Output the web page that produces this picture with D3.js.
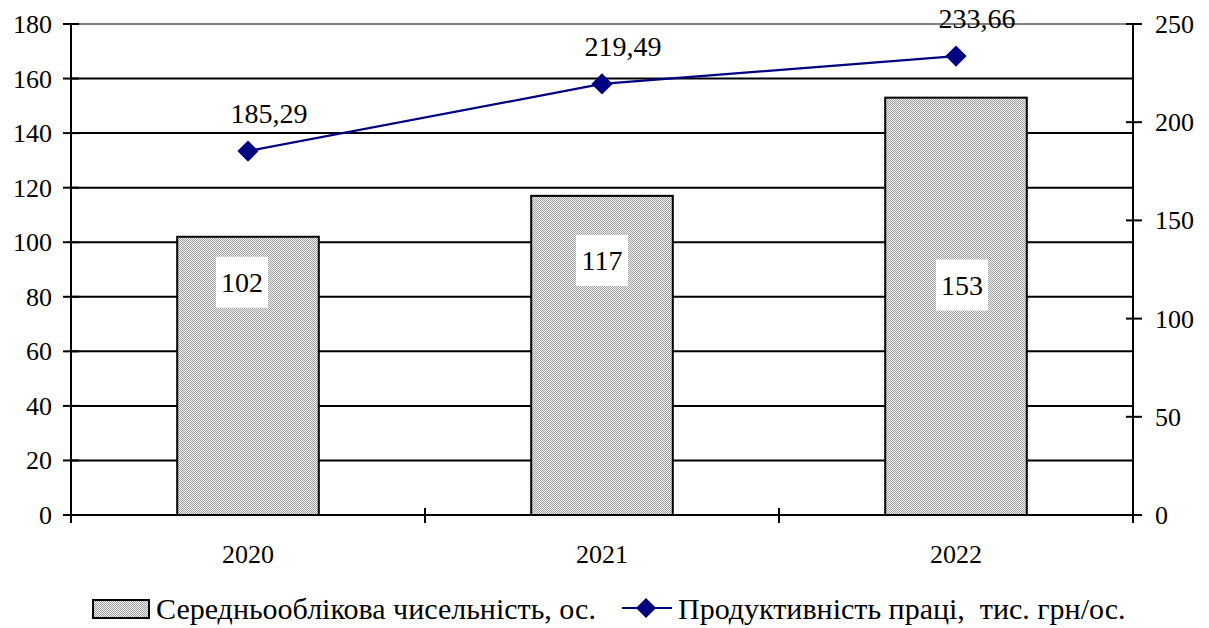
<!DOCTYPE html>
<html>
<head>
<meta charset="utf-8">
<script src="https://cdn.jsdelivr.net/npm/d3@7"></script>
<style>
  html, body { margin: 0; padding: 0; background: #fff; }
  svg { display: block; }
  svg text { font-family: 'Liberation Serif', serif; }
</style>
</head>
<body>
<svg id="chart" width="1209" height="628"></svg>
<script>
// ---- data ----
const categories = ["2020", "2021", "2022"];
const headcount = [102, 117, 153];              // left axis, bars
const productivity = [185.29, 219.49, 233.66];  // right axis, line
const productivityLabels = ["185,29", "219,49", "233,66"];
const leftTicks = [0, 20, 40, 60, 80, 100, 120, 140, 160, 180];
const rightTicks = [0, 50, 100, 150, 200, 250];
const barLabelLevels = [85.5, 93.5, 84.5]; // left-axis value where each bar's label box sits
const seriesNames = ["Середньооблікова чисельність, ос.", "Продуктивність праці,  тис. грн/ос."];

// ---- layout ----
const FONT = "'Liberation Serif', serif";
const svg = d3.select("#chart");
const L = 71, R = 1133, T = 24, B = 515;

const x = d3.scaleBand().domain(categories).range([L, R]).paddingInner(0.6).paddingOuter(0.3);
const xc = d3.scaleBand().domain(categories).range([L, R]);
const yL = d3.scaleLinear().domain([0, 180]).range([B, T]);
const yR = d3.scaleLinear().domain([0, 250]).range([B, T]);

// pattern (fine dotted gray)
const defs = svg.append("defs");
const pat = defs.append("pattern").attr("id", "hatch").attr("patternUnits", "userSpaceOnUse")
  .attr("width", 2).attr("height", 2);
pat.append("rect").attr("width", 2).attr("height", 2).attr("fill", "#f0f0f0");
pat.append("rect").attr("x", 0).attr("y", 0).attr("width", 1).attr("height", 1).attr("fill", "#a0a0a0");
pat.append("rect").attr("x", 1).attr("y", 1).attr("width", 1).attr("height", 1).attr("fill", "#a0a0a0");

// gridlines
svg.append("g").selectAll("line").data(leftTicks.filter(d => d > 0)).join("line")
  .attr("x1", L).attr("x2", R)
  .attr("y1", d => yL(d)).attr("y2", d => yL(d))
  .attr("stroke", d => d === 180 ? "#808080" : "#000")
  .attr("stroke-width", 2);

// bars
svg.append("g").selectAll("rect").data(categories).join("rect")
  .attr("x", d => x(d))
  .attr("y", (d, i) => yL(headcount[i]))
  .attr("width", x.bandwidth())
  .attr("height", (d, i) => yL(0) - yL(headcount[i]))
  .attr("fill", "url(#hatch)")
  .attr("stroke", "#000").attr("stroke-width", 2);

// bar labels with white boxes
const bl = svg.append("g");
categories.forEach((c, i) => {
  const cx = x(c) + x.bandwidth() / 2 + (i - 1) * 6;
  const cy = yL(barLabelLevels[i]);
  bl.append("rect").attr("x", cx - 26).attr("y", cy - 25).attr("width", 52).attr("height", 51).attr("fill", "#fff");
  bl.append("text").attr("x", cx).attr("y", cy + 10).attr("text-anchor", "middle")
    .attr("font-family", FONT).attr("font-size", 28).text(headcount[i]);
});

// axes
const axisG = svg.append("g").attr("stroke", "#000").attr("stroke-width", 2);
axisG.append("line").attr("x1", L).attr("x2", L).attr("y1", T).attr("y2", B + 1);
axisG.append("line").attr("x1", R).attr("x2", R).attr("y1", T).attr("y2", B + 1);
axisG.append("line").attr("x1", L - 1).attr("x2", R + 1).attr("y1", B).attr("y2", B);

// left ticks
const lt = svg.append("g");
lt.selectAll("line").data(leftTicks).join("line")
  .attr("x1", L - 8).attr("x2", L + 8)
  .attr("y1", d => yL(d)).attr("y2", d => yL(d))
  .attr("stroke", "#000").attr("stroke-width", 2);
lt.selectAll("text").data(leftTicks).join("text")
  .attr("x", 52).attr("y", d => yL(d) + 9).attr("text-anchor", "end")
  .attr("font-family", FONT).attr("font-size", 26).text(d => d);

// right ticks
const rt = svg.append("g");
rt.selectAll("line").data(rightTicks).join("line")
  .attr("x1", R - 7).attr("x2", R + 9)
  .attr("y1", d => yR(d)).attr("y2", d => yR(d))
  .attr("stroke", "#000").attr("stroke-width", 2);
rt.selectAll("text").data(rightTicks).join("text")
  .attr("x", 1155).attr("y", d => yR(d) + 9).attr("text-anchor", "start")
  .attr("font-family", FONT).attr("font-size", 26).text(d => d);

// bottom ticks at category boundaries
const bounds = categories.map(c => xc(c)).concat([xc(categories[categories.length - 1]) + xc.bandwidth()]);
svg.append("g").selectAll("line").data(bounds).join("line")
  .attr("x1", d => d).attr("x2", d => d)
  .attr("y1", B - 7).attr("y2", B + 8)
  .attr("stroke", "#000").attr("stroke-width", 2);
svg.append("g").selectAll("text").data(categories).join("text")
  .attr("x", d => xc(d) + xc.bandwidth() / 2).attr("y", 563)
  .attr("text-anchor", "middle").attr("font-family", FONT).attr("font-size", 26).text(d => d);

// line series
const pts = categories.map((c, i) => [xc(c) + xc.bandwidth() / 2, yR(productivity[i])]);
svg.append("path").attr("d", d3.line()(pts)).attr("fill", "none")
  .attr("stroke", "#000080").attr("stroke-width", 2.2);
svg.append("g").selectAll("path").data(pts).join("path")
  .attr("d", d3.symbol().type(d3.symbolSquare).size(225))
  .attr("transform", d => `translate(${d[0]},${d[1]}) rotate(45)`)
  .attr("fill", "#000080");
svg.append("g").selectAll("text").data(pts).join("text")
  .attr("x", d => d[0] + 21).attr("y", d => d[1] - 28)
  .attr("text-anchor", "middle").attr("font-family", FONT).attr("font-size", 28)
  .text((d, i) => productivityLabels[i]);

// legend
const lg = svg.append("g");
lg.append("rect").attr("x", 93).attr("y", 600).attr("width", 56).attr("height", 18)
  .attr("fill", "url(#hatch)").attr("stroke", "#000").attr("stroke-width", 2);
lg.append("text").attr("x", 156).attr("y", 619).attr("font-family", FONT).attr("font-size", 30).text(seriesNames[0]);
lg.append("line").attr("x1", 622).attr("x2", 672).attr("y1", 608).attr("y2", 608)
  .attr("stroke", "#000080").attr("stroke-width", 2.2);
lg.append("path").attr("d", d3.symbol().type(d3.symbolSquare).size(200))
  .attr("transform", "translate(646,608) rotate(45)").attr("fill", "#000080");
lg.append("text").attr("x", 678).attr("y", 619).attr("font-family", FONT).attr("font-size", 30)
  .style("white-space", "pre").attr("xml:space", "preserve").text(seriesNames[1]);
</script>
</body>
</html>
